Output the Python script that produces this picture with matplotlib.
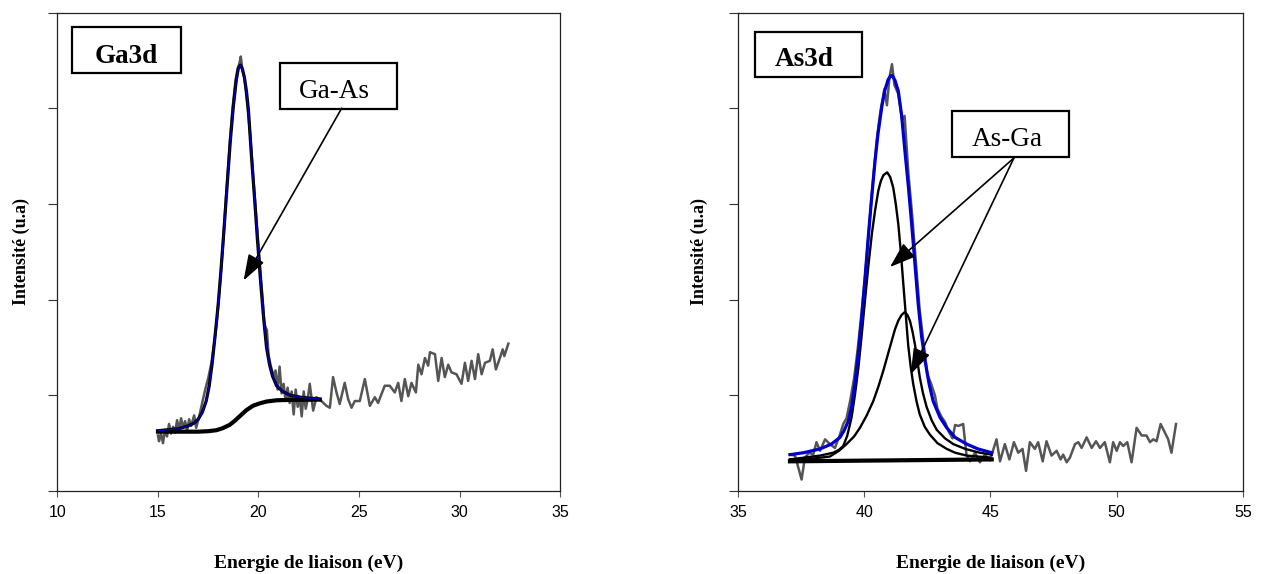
# XPS core-level spectra Ga3d / As3d with fitted components
import matplotlib.pyplot as plt
from matplotlib.patches import Rectangle

# ---- Ga3d panel ----
# raw spectrum
ga_raw_e = [15.0, 15.05, 15.15, 15.25, 15.35, 15.45, 15.55, 15.65, 15.75, 15.85,
            15.95, 16.05, 16.15, 16.25, 16.35, 16.45, 16.55, 16.65, 16.8, 16.9,
            17.05, 17.2, 17.35, 17.5, 17.65, 17.8, 17.95, 18.1, 18.25, 18.4,
            18.55, 18.7, 18.85, 18.95, 19.05, 19.12, 19.2, 19.3, 19.45, 19.6,
            19.75, 19.9, 20.05, 20.2, 20.3, 20.42, 20.5, 20.62, 20.75, 20.85,
            20.95, 21.05, 21.15, 21.25, 21.35, 21.45, 21.55, 21.65, 21.75, 21.85,
            21.95, 22.05, 22.15, 22.25, 22.35, 22.45, 22.55, 22.72, 22.88, 23.13,
            23.38, 23.55, 23.71, 23.88, 24.04, 24.29, 24.46, 24.63, 24.79, 25.04,
            25.29, 25.54, 25.79, 25.95, 26.28, 26.53, 26.78, 26.95, 27.11, 27.28,
            27.45, 27.61, 27.83, 27.95, 28.11, 28.28, 28.44, 28.53, 28.78, 28.94,
            29.11, 29.27, 29.44, 29.6, 29.85, 30.1, 30.27, 30.43, 30.6, 30.77,
            30.93, 31.1, 31.27, 31.51, 31.65, 31.81, 32.01, 32.15, 32.23, 32.43]
ga_raw_i = [0.58, 0.52, 0.60, 0.50, 0.64, 0.57, 0.70, 0.60, 0.67, 0.61,
            0.74, 0.64, 0.76, 0.66, 0.73, 0.63, 0.75, 0.68, 0.79, 0.66,
            0.78, 0.92, 1.06, 1.18, 1.33, 1.55, 1.82, 2.20, 2.62, 3.12,
            3.58, 3.98, 4.28, 4.40, 4.47, 4.54, 4.40, 4.32, 4.02, 3.70,
            3.25, 2.84, 2.42, 2.02, 1.74, 1.68, 1.42, 1.30, 1.20, 1.26,
            1.06, 1.30, 1.02, 1.12, 0.94, 1.08, 0.92, 1.04, 0.80, 1.06,
            0.88, 0.98, 0.78, 1.04, 0.86, 0.96, 1.12, 0.84, 0.98, 0.94,
            0.89, 0.87, 1.19, 1.03, 0.91, 1.13, 0.96, 0.87, 0.94, 0.94,
            1.17, 0.89, 0.98, 0.92, 1.10, 1.10, 1.03, 1.13, 0.94, 1.17,
            0.99, 1.13, 1.03, 1.32, 1.22, 1.39, 1.31, 1.45, 1.43, 1.15,
            1.39, 1.19, 1.32, 1.24, 1.22, 1.12, 1.34, 1.15, 1.36, 1.17,
            1.43, 1.22, 1.34, 1.36, 1.48, 1.27, 1.39, 1.48, 1.41, 1.54]
# fitted envelope
ga_fit_e = [15.0, 15.5, 16.0, 16.5, 16.8, 17.0, 17.2, 17.4, 17.55, 17.7,
            17.85, 18.0, 18.15, 18.3, 18.45, 18.6, 18.75, 18.9, 19.0, 19.1,
            19.2, 19.3, 19.4, 19.5, 19.65, 19.8, 19.95, 20.1, 20.25, 20.4,
            20.55, 20.7, 20.9, 21.2, 21.6, 22.1, 22.6, 23.05]
ga_fit_i = [0.63, 0.64, 0.65, 0.68, 0.71, 0.75, 0.82, 0.94, 1.10, 1.34,
            1.64, 1.96, 2.35, 2.78, 3.22, 3.66, 4.02, 4.30, 4.42, 4.45,
            4.41, 4.32, 4.18, 3.98, 3.50, 3.07, 2.62, 2.20, 1.82, 1.50,
            1.32, 1.20, 1.10, 1.04, 1.00, 0.98, 0.97, 0.96]
# Shirley background
ga_bg_e = [15.0, 17.0, 17.5, 17.9, 18.2, 18.56, 18.8, 19.06, 19.4, 19.72,
           20.05, 20.4, 20.9, 21.5, 23.05]
ga_bg_i = [0.62, 0.62, 0.625, 0.635, 0.655, 0.69, 0.73, 0.78, 0.845, 0.89,
           0.915, 0.935, 0.948, 0.952, 0.955]

# ---- As3d panel ----
as_raw_e = [37.06, 37.26, 37.52, 37.65, 37.82, 37.98, 38.11, 38.25, 38.45, 38.64,
            38.84, 39.04, 39.17, 39.3, 39.45, 39.6, 39.75, 39.9, 40.05, 40.2,
            40.35, 40.5, 40.65, 40.8, 40.9, 41.0, 41.1, 41.2, 41.35, 41.5,
            41.6, 41.75, 41.9, 42.05, 42.2, 42.35, 42.5, 42.65, 42.8, 42.9,
            43.05, 43.2, 43.35, 43.5, 43.6, 43.73, 43.92, 44.05, 44.19, 44.39,
            44.58, 44.78, 44.98, 45.24, 45.38, 45.57, 45.75, 45.93, 46.1, 46.27,
            46.41, 46.56, 46.76, 46.89, 47.07, 47.22, 47.42, 47.62, 47.78, 47.88,
            48.02, 48.15, 48.35, 48.48, 48.61, 48.81, 49.01, 49.18, 49.34, 49.53,
            49.73, 49.86, 50.0, 50.13, 50.26, 50.42, 50.59, 50.79, 50.99, 51.18,
            51.32, 51.45, 51.58, 51.74, 51.91, 52.04, 52.17, 52.35]
as_raw_i = [0.38, 0.37, 0.12, 0.35, 0.40, 0.38, 0.51, 0.42, 0.54, 0.49,
            0.45, 0.59, 0.70, 0.76, 0.95, 1.18, 1.50, 1.88, 2.28, 2.78,
            3.25, 3.68, 3.98, 4.20, 4.03, 4.32, 4.46, 4.24, 4.15, 3.88,
            3.92, 3.32, 2.88, 2.38, 1.88, 1.55, 1.22, 1.12, 1.00, 0.86,
            0.78, 0.72, 0.62, 0.55, 0.69, 0.68, 0.70, 0.38, 0.31, 0.40,
            0.30, 0.38, 0.32, 0.54, 0.31, 0.49, 0.33, 0.51, 0.40, 0.44,
            0.21, 0.51, 0.44, 0.51, 0.31, 0.52, 0.37, 0.42, 0.33, 0.38,
            0.30, 0.35, 0.49, 0.51, 0.45, 0.56, 0.45, 0.52, 0.45, 0.51,
            0.30, 0.51, 0.42, 0.51, 0.47, 0.51, 0.30, 0.66, 0.58, 0.58,
            0.51, 0.54, 0.52, 0.70, 0.61, 0.54, 0.40, 0.70]
as_fit_e = [37.06, 37.6, 38.25, 38.7, 39.04, 39.2, 39.37, 39.5, 39.63, 39.77,
            39.9, 40.03, 40.16, 40.3, 40.43, 40.55, 40.7, 40.82, 40.95, 41.05,
            41.12, 41.22, 41.35, 41.48, 41.61, 41.75, 41.88, 42.01, 42.14, 42.27,
            42.41, 42.57, 42.73, 43.0, 43.27, 43.6, 44.06, 44.5, 45.05]
as_fit_i = [0.38, 0.40, 0.44, 0.49, 0.56, 0.63, 0.73, 0.88, 1.12, 1.45,
            1.81, 2.22, 2.65, 3.08, 3.45, 3.74, 4.02, 4.19, 4.30, 4.34,
            4.34, 4.29, 4.18, 3.93, 3.56, 3.18, 2.79, 2.37, 1.95, 1.62,
            1.36, 1.12, 0.94, 0.77, 0.66, 0.56, 0.49, 0.44, 0.40]
# As3d 5/2 component
as_c1_e = [37.06, 38.25, 38.77, 39.0, 39.17, 39.33, 39.5, 39.63, 39.77, 39.9,
           40.03, 40.16, 40.3, 40.43, 40.56, 40.66, 40.76, 40.91, 41.03, 41.15,
           41.25, 41.35, 41.45, 41.55, 41.65, 41.74, 41.84, 41.94, 42.07, 42.2,
           42.4, 42.6, 42.9, 43.27, 43.6, 44.06, 44.96]
as_c1_i = [0.33, 0.37, 0.40, 0.43, 0.47, 0.58, 0.77, 1.00, 1.29, 1.63,
           1.99, 2.34, 2.68, 2.93, 3.14, 3.24, 3.30, 3.33, 3.28, 3.17,
           3.00, 2.79, 2.50, 2.16, 1.83, 1.53, 1.30, 1.12, 0.94, 0.80,
           0.67, 0.59, 0.50, 0.44, 0.40, 0.37, 0.35]
# As3d 3/2 component
as_c2_e = [37.06, 38.0, 38.64, 39.0, 39.3, 39.6, 39.83, 40.1, 40.36, 40.56,
           40.76, 40.93, 41.09, 41.22, 41.35, 41.48, 41.61, 41.71, 41.81, 41.91,
           42.01, 42.1, 42.2, 42.33, 42.47, 42.67, 42.87, 43.2, 43.53, 44.0,
           44.58, 45.05]
as_c2_i = [0.33, 0.34, 0.36, 0.42, 0.49, 0.57, 0.66, 0.79, 0.94, 1.09,
           1.26, 1.42, 1.57, 1.69, 1.78, 1.84, 1.87, 1.84, 1.78, 1.67,
           1.53, 1.37, 1.19, 1.02, 0.88, 0.74, 0.64, 0.55, 0.49, 0.44,
           0.40, 0.38]
as_bg_e = [37.06, 45.05]
as_bg_i = [0.31, 0.33]

# arrow anchors (box corner -> peak), data units
ga_arrow = [((24.14, 4.0), (19.26, 2.20))]
as_arrows = [((45.93, 3.48), (41.02, 2.34)), ((45.93, 3.48), (41.84, 1.22))]

SERIF = 'Liberation Serif'
SANS = 'Liberation Sans'

fig = plt.figure(figsize=(12.63, 5.74), dpi=100)
ax1 = fig.add_axes([0.0455, 0.1446, 0.3979, 0.8336])
ax2 = fig.add_axes([0.5843, 0.1446, 0.3998, 0.8336])


def style_axes(ax, xlim, xticks, ylab_x):
    ax.set_xlim(xlim)
    ax.set_ylim(0, 5)
    ax.set_xticks(xticks)
    ax.set_yticks(range(6))
    ax.set_yticklabels([])
    ax.tick_params(axis='y', direction='out', length=6.5, width=0.8, color='#333')
    ax.tick_params(axis='x', direction='out', length=4.3, width=0.8, color='#555',
                   labelsize=11.5, pad=6)
    for lab in ax.get_xticklabels():
        lab.set_fontfamily(SANS)
    for s in ax.spines.values():
        s.set_linewidth(0.9)
        s.set_color('#222')
    ax.set_xlabel('Energie de liaison (eV)', fontfamily=SERIF, fontweight='bold', fontsize=14)
    ax.xaxis.set_label_coords(0.5, -0.133)
    ax.set_ylabel('Intensité (u.a)', fontfamily=SERIF, fontweight='bold', fontsize=13)
    ax.yaxis.set_label_coords(ylab_x, 0.5)


def text_box(ax, x, y, w, h, tx, ty, label, weight):
    ax.add_patch(Rectangle((x, y), w, h, transform=ax.transAxes, fc='white',
                           ec='black', lw=1.6, zorder=5))
    ax.text(tx, ty, label, transform=ax.transAxes, ha='center', va='baseline',
            fontfamily=SERIF, fontweight=weight, fontsize=19.5, zorder=6)


def arrow(ax, start, tip):
    ax.annotate('', xy=tip, xytext=start, zorder=7,
                arrowprops=dict(arrowstyle='-|>,head_length=1.6,head_width=0.55',
                                color='black', lw=1.2, shrinkA=0, shrinkB=0))


# Ga3d
ax1.plot(ga_raw_e, ga_raw_i, color='#555555', lw=1.8)
ax1.plot(ga_bg_e, ga_bg_i, color='black', lw=3)
ax1.plot(ga_fit_e, ga_fit_i, color='black', lw=2.3)
ax1.plot(ga_fit_e, ga_fit_i, color='#0000cc', lw=0.9)
style_axes(ax1, (10, 35), [10, 15, 20, 25, 30, 35], -0.055)
text_box(ax1, 0.028, 0.8745, 0.217, 0.0962, 0.1365, 0.895, 'Ga3d', 'bold')
text_box(ax1, 0.442, 0.799, 0.233, 0.0962, 0.552, 0.822, 'Ga-As', 'normal')
for start, tip in ga_arrow:
    arrow(ax1, start, tip)

# As3d
ax2.plot(as_raw_e, as_raw_i, color='#555555', lw=1.8)
ax2.plot(as_bg_e, as_bg_i, color='black', lw=3)
ax2.plot(as_c1_e, as_c1_i, color='black', lw=1.7)
ax2.plot(as_c2_e, as_c2_i, color='black', lw=1.7)
ax2.plot(as_fit_e, as_fit_i, color='#0000cc', lw=2.3)
style_axes(ax2, (35, 55), [35, 40, 45, 50, 55], -0.059)
text_box(ax2, 0.0337, 0.866, 0.212, 0.094, 0.132, 0.888, 'As3d', 'bold')
text_box(ax2, 0.4238, 0.699, 0.2317, 0.0962, 0.5337, 0.720, 'As-Ga', 'normal')
for start, tip in as_arrows:
    arrow(ax2, start, tip)

fig.savefig('out.png', dpi=100)
